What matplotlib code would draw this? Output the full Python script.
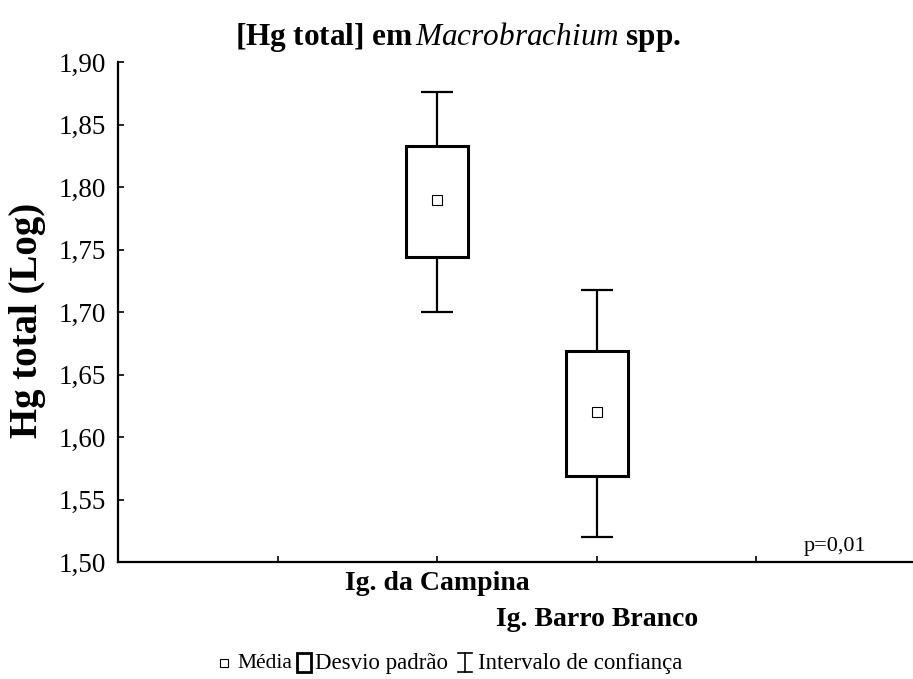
import matplotlib
matplotlib.use("Agg")
import matplotlib.pyplot as plt
import matplotlib.transforms as mtransforms
from matplotlib.lines import Line2D
from matplotlib.patches import Rectangle

plt.rcParams['font.family'] = ['Liberation Serif', 'DejaVu Serif']
plt.rcParams['mathtext.fontset'] = 'custom'
plt.rcParams['mathtext.rm'] = 'Liberation Serif:bold'
plt.rcParams['mathtext.bf'] = 'Liberation Serif:bold'
plt.rcParams['mathtext.it'] = 'Liberation Serif:italic'

# ---- data ----
groups = ["Ig. da Campina", "Ig. Barro Branco"]
positions = [2, 3]
means = [1.790, 1.620]
sd_low = [1.744, 1.569]
sd_high = [1.833, 1.669]
ci_low = [1.700, 1.520]
ci_high = [1.876, 1.718]
yticks = [1.50, 1.55, 1.60, 1.65, 1.70, 1.75, 1.80, 1.85, 1.90]
ytick_labels = ["1,50", "1,55", "1,60", "1,65", "1,70", "1,75", "1,80", "1,85", "1,90"]
p_text = "p=0,01"

W, H = 913, 679
fig = plt.figure(figsize=(W / 100, H / 100), dpi=100)
ax = fig.add_axes([118 / W, 1 - 562 / H, (913 - 118) / W + 0.003, (562 - 62) / H])

box_w = 0.39
cap_w = 0.20
for x, m, sl, sh, cl, ch in zip(positions, means, sd_low, sd_high, ci_low, ci_high):
    ax.bar(x, sh - sl, bottom=sl, width=box_w, fill=False, edgecolor='black', linewidth=2.2, zorder=3)
    ax.vlines(x, sh, ch, color='black', linewidth=1.6)
    ax.vlines(x, cl, sl, color='black', linewidth=1.6)
    ax.hlines([ch, cl], x - cap_w / 2, x + cap_w / 2, color='black', linewidth=1.6)
    ax.plot([x], [m], marker='s', markersize=7, markerfacecolor='white', markeredgecolor='black',
            markeredgewidth=0.8, linestyle='none', zorder=4)

ax.set_xlim(0, 5)
ax.set_ylim(1.50, 1.90)
ax.set_yticks(yticks)
ax.set_yticklabels(ytick_labels, fontsize=19.5)
ax.set_xticks([1, 2, 3, 4])
ax.set_xticklabels([])
ax.tick_params(axis='both', direction='in', length=4, width=1.2, color='black')
ax.tick_params(axis='y', pad=9)
for s in ['top', 'right']:
    ax.spines[s].set_visible(False)
for s in ['left', 'bottom']:
    ax.spines[s].set_linewidth(1.6)

fig.text(28 / W, 1 - 320 / H, "Hg total (Log)", rotation=90, ha='center', va='center',
         fontsize=28, fontweight='bold')

# staggered category labels
trans = mtransforms.blended_transform_factory(ax.transData, fig.transFigure)
for i, (x, g) in enumerate(zip(positions, groups)):
    ypix = 583 if i == 0 else 620
    ax.text(x, 1 - ypix / H, g, transform=trans, ha='center', va='center', fontsize=20, fontweight='bold')

ax.text(835 / W, 1 - 546 / H, p_text, transform=fig.transFigure, ha='center', va='center', fontsize=16)

fig.text(458 / W, 1 - 37 / H, r"$\mathrm{[Hg\ total]\ em}\,\mathit{Macrobrachium}\ \mathrm{spp.}$",
         ha='center', va='center', fontsize=22.5)

# legend (manual)
ly = 1 - 663 / H
fig.add_artist(Line2D([224 / W], [ly], marker='s', markersize=6, markerfacecolor='white',
                      markeredgecolor='black', markeredgewidth=0.8, transform=fig.transFigure))
fig.text(237 / W, ly, "Média", ha='left', va='center', fontsize=15.5)
fig.add_artist(Rectangle((297 / W, 1 - 672 / H), 14 / W, 19 / H, fill=False, edgecolor='black',
                         linewidth=2, transform=fig.transFigure))
fig.text(315 / W, ly, "Desvio padrão", ha='left', va='center', fontsize=16.5)
ix = 465 / W
fig.add_artist(Line2D([ix, ix], [1 - 653 / H, 1 - 672 / H], color='black', linewidth=1.2, transform=fig.transFigure))
fig.add_artist(Line2D([ix - 7 / W, ix + 7 / W], [1 - 653 / H] * 2, color='black', linewidth=1.2, transform=fig.transFigure))
fig.add_artist(Line2D([ix - 7 / W, ix + 7 / W], [1 - 672 / H] * 2, color='black', linewidth=1.2, transform=fig.transFigure))
fig.text(478 / W, ly, "Intervalo de confiança", ha='left', va='center', fontsize=16.5)

fig.savefig("out.png", dpi=100)
